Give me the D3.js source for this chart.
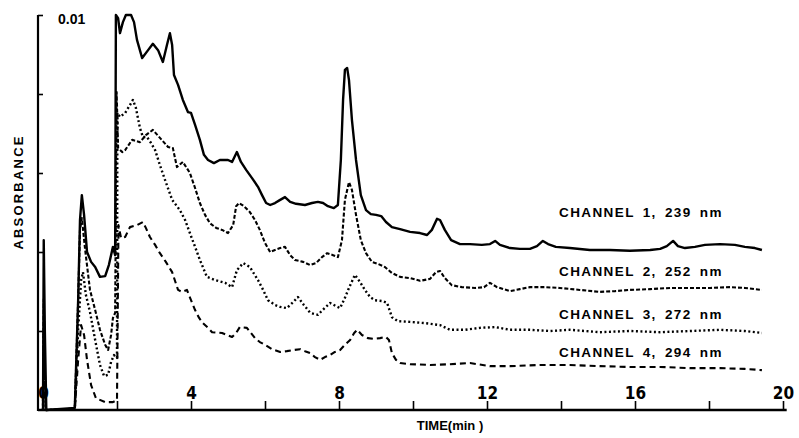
<!DOCTYPE html>
<html lang="en">
<head>
    <meta charset="UTF-8">
    <title>Absorbance chromatogram, 4 channels</title>
    <script src="https://d3js.org/d3.v7.min.js"></script>
    <style>
        * { margin: 0; padding: 0; }
        body { background: #fff; }
        svg { display: block; }
        .lbl { font-family: "Liberation Sans", Arial, sans-serif; font-weight: bold; fill: #000; }
        .tick text { font-family: "DejaVu Sans", sans-serif; font-stretch: condensed; font-weight: bold; }
    </style>
</head>
<body>
<script>
    var width = 799, height = 438;

    // time in minutes, absorbance in mAU (axis top = 0.01 AU = 10 mAU)
    var ch1 = [[0,0],[0.02,4.3],[0.05,2.0],[0.09,0],[0.86,0.05],[0.95,2.78],[1.0,4.81],[1.05,5.44],[1.11,4.94],[1.19,4.0],[1.30,3.75],[1.41,3.62],[1.54,3.37],[1.68,3.39],[1.78,3.67],[1.89,4.13],[1.95,3.92],
        [1.97,10.0],[2.03,9.92],[2.08,9.54],[2.16,9.82],[2.24,10.0],[2.38,10.0],[2.46,9.82],[2.54,9.37],[2.68,8.91],[2.84,9.11],[2.97,9.27],[3.11,9.11],[3.24,8.81],[3.35,9.24],[3.43,9.54],[3.49,9.24],[3.54,8.48],[3.65,8.23],[3.78,7.85],[3.92,7.54],[4.0,7.52],[4.11,7.22],[4.24,6.84],[4.35,6.46],[4.46,6.33],[4.62,6.25],[4.78,6.33],[5.0,6.33],[5.11,6.28],[5.24,6.53],[5.35,6.28],[5.49,6.08],[5.65,5.87],[5.81,5.65],[5.92,5.44],[6.03,5.24],[6.14,5.19],[6.27,5.24],[6.41,5.32],[6.54,5.39],[6.68,5.27],[6.84,5.22],[7.08,5.19],[7.27,5.24],[7.43,5.27],[7.57,5.24],[7.70,5.16],[7.86,5.11],[7.97,5.19],
        [8.05,6.33],[8.11,7.85],[8.16,8.61],[8.22,8.66],[8.27,8.35],[8.35,7.34],[8.46,6.33],[8.59,5.44],[8.73,5.06],[8.86,4.96],[9.0,4.94],[9.14,4.91],[9.27,4.76],[9.43,4.63],[9.65,4.58],[9.92,4.51],[10.19,4.48],[10.38,4.43],[10.51,4.56],[10.65,4.84],[10.73,4.81],[10.86,4.56],[11.03,4.30],[11.27,4.20],[11.54,4.20],[11.86,4.18],[12.08,4.20],[12.22,4.28],[12.35,4.18],[12.62,4.10],[12.89,4.08],[13.16,4.08],[13.35,4.15],[13.51,4.28],[13.65,4.20],[13.86,4.13],[14.24,4.10],[14.78,4.05],[15.32,4.05],[15.86,4.03],[16.41,4.05],[16.68,4.08],[16.86,4.15],[17.03,4.28],[17.16,4.15],[17.35,4.10],[17.62,4.13],[17.89,4.18],[18.30,4.20],[18.70,4.18],[18.97,4.13],[19.24,4.10],[19.43,4.05]];

    var ch2 = [[0,0],[0.02,2.8],[0.05,1.0],[0.08,0],[0.86,0.03],[0.95,2.78],[1.0,4.56],[1.05,4.86],[1.14,4.05],[1.27,3.04],[1.41,2.53],[1.54,2.03],[1.68,1.65],[1.76,1.52],[1.84,1.90],[1.89,2.33],[1.95,2.46],
        [1.99,8.05],[2.03,6.63],[2.14,6.53],[2.22,6.58],[2.41,6.84],[2.62,6.78],[2.78,6.96],[2.97,7.09],[3.16,6.89],[3.38,6.66],[3.51,6.63],[3.62,6.15],[3.78,6.28],[3.97,6.0],[4.11,5.62],[4.24,5.24],[4.38,4.94],[4.51,4.73],[4.68,4.61],[4.84,4.56],[5.0,4.48],[5.14,4.68],[5.22,5.16],[5.30,5.24],[5.43,5.16],[5.59,5.01],[5.73,4.81],[5.86,4.56],[6.0,4.23],[6.14,4.0],[6.27,4.05],[6.41,4.10],[6.54,4.13],[6.68,3.92],[6.81,3.80],[7.03,3.75],[7.22,3.67],[7.38,3.72],[7.54,3.87],[7.68,3.97],[7.84,3.92],[7.97,3.87],
        [8.08,4.30],[8.16,5.32],[8.27,5.77],[8.35,5.57],[8.46,4.94],[8.59,4.30],[8.73,3.97],[8.89,3.75],[9.05,3.70],[9.24,3.62],[9.43,3.47],[9.65,3.37],[9.92,3.34],[10.19,3.27],[10.46,3.32],[10.62,3.49],[10.73,3.52],[10.86,3.34],[11.05,3.16],[11.32,3.11],[11.68,3.09],[11.92,3.11],[12.08,3.22],[12.27,3.11],[12.62,3.01],[12.89,3.06],[13.16,3.11],[13.57,3.11],[13.97,3.09],[14.51,3.04],[15.05,2.99],[15.46,3.01],[15.86,3.04],[16.41,3.06],[16.95,3.09],[17.49,3.09],[18.03,3.09],[18.57,3.11],[18.97,3.09],[19.43,3.04]];

    var ch3 = [[0,0],[0.02,2.0],[0.05,0.7],[0.08,0],[0.86,0.03],[0.95,2.03],[1.03,3.29],[1.08,3.49],[1.16,2.91],[1.27,2.48],[1.41,1.77],[1.54,1.14],[1.65,0.86],[1.76,0.89],[1.84,1.22],[1.92,1.39],[2.0,1.32],
        [2.01,7.52],[2.08,7.42],[2.22,7.52],[2.35,7.72],[2.43,7.85],[2.51,7.65],[2.62,7.14],[2.70,6.91],[2.81,6.91],[2.92,6.76],[3.03,6.58],[3.16,6.20],[3.30,5.82],[3.49,5.32],[3.70,5.06],[3.84,4.81],[3.97,4.48],[4.11,4.13],[4.24,3.80],[4.43,3.37],[4.65,3.29],[4.92,3.22],[5.11,3.11],[5.24,3.54],[5.41,3.72],[5.59,3.62],[5.81,3.29],[5.95,3.04],[6.08,2.78],[6.27,2.66],[6.41,2.61],[6.59,2.58],[6.76,2.73],[6.89,2.86],[7.05,2.66],[7.22,2.46],[7.43,2.41],[7.59,2.56],[7.76,2.71],[7.92,2.63],[8.03,2.58],
        [8.16,2.84],[8.27,3.09],[8.43,3.42],[8.57,3.24],[8.70,3.04],[8.84,2.86],[8.97,2.78],[9.16,2.76],[9.30,2.71],[9.43,2.35],[9.59,2.25],[9.92,2.23],[10.32,2.20],[10.73,2.15],[11.0,2.03],[11.41,2.03],[11.81,2.08],[12.22,2.10],[12.62,2.03],[13.16,2.03],[13.70,2.0],[14.24,2.03],[15.05,1.97],[15.86,2.0],[16.68,1.97],[17.49,2.0],[18.30,2.03],[18.97,2.0],[19.43,1.95]];

    var ch4 = [[0,0],[0.02,1.5],[0.05,0.5],[0.08,0],[0.86,0.03],[0.95,1.27],[1.03,2.15],[1.11,1.90],[1.19,1.27],[1.30,0.63],[1.43,0.30],[1.68,0.20],[1.89,0.20],[2.0,0.25],
        [2.04,4.68],[2.11,4.35],[2.22,4.38],[2.35,4.63],[2.54,4.68],[2.70,4.76],[2.78,4.61],[2.89,4.38],[3.03,4.18],[3.16,3.97],[3.32,3.75],[3.49,3.49],[3.65,3.04],[3.76,2.99],[3.89,3.04],[4.0,2.78],[4.11,2.53],[4.22,2.33],[4.32,2.20],[4.46,2.08],[4.57,1.97],[4.84,1.95],[5.11,1.85],[5.22,1.95],[5.32,2.10],[5.51,2.08],[5.62,1.95],[5.73,1.82],[5.86,1.72],[6.0,1.65],[6.19,1.54],[6.41,1.47],[6.59,1.49],[6.78,1.52],[6.95,1.54],[7.08,1.49],[7.22,1.44],[7.35,1.34],[7.49,1.27],[7.62,1.34],[7.76,1.39],[7.89,1.47],[8.03,1.52],
        [8.16,1.65],[8.30,1.77],[8.41,1.95],[8.49,2.03],[8.62,1.90],[8.78,1.82],[8.95,1.80],[9.11,1.82],[9.27,1.85],[9.35,1.77],[9.43,1.44],[9.54,1.27],[9.65,1.19],[9.92,1.16],[10.46,1.14],[11.0,1.16],[11.54,1.19],[12.08,1.11],[12.62,1.11],[13.43,1.14],[14.24,1.14],[15.05,1.11],[15.86,1.09],[16.68,1.09],[17.49,1.06],[18.30,1.06],[18.97,1.04],[19.43,1.01]];

    var channels = [ch1, ch2, ch3, ch4];
    var channelNames = ['CHANNEL 1, 239 nm', 'CHANNEL 2, 252 nm', 'CHANNEL 3, 272 nm', 'CHANNEL 4, 294 nm'];
    var dashes = [null, '4,2', '2,2.5', '6,4'];
    var widths = [2.4, 2.1, 2.4, 2.1];
    var labelY = [217, 276, 319, 357];

    var xTicks = [0, 2, 4, 6, 8, 10, 12, 14, 16, 18, 20];
    var yTicks = [2, 4, 6, 8, 10];

    var svg = d3.select('body').append('svg')
        .attr('width', width)
        .attr('height', height);

    var xScale = d3.scaleLinear().domain([0, 20]).range([43, 783]);
    var yScale = d3.scaleLinear().domain([0, 10]).range([410, 15]);

    // curves
    var line = d3.line()
        .x(function (d) { return xScale(d[0]); })
        .y(function (d) { return yScale(d[1]); });

    svg.selectAll('.trace')
        .data(channels)
        .enter()
        .append('path')
        .attr('class', 'trace')
        .attr('d', line)
        .attr('fill', 'none')
        .attr('stroke', '#000')
        .attr('stroke-width', function (d, i) { return widths[i]; })
        .attr('stroke-linejoin', 'round')
        .attr('stroke-dasharray', function (d, i) { return dashes[i]; });

    // x axis, ticks pointing up, labels above
    var xAxis = d3.axisTop(xScale)
        .tickValues(xTicks)
        .tickSize(9)
        .tickSizeOuter(0)
        .tickPadding(2)
        .tickFormat(function (d) { return d % 4 == 0 ? d : ''; });

    var gx = svg.append('g')
        .attr('transform', 'translate(0,410)')
        .call(xAxis);
    gx.select('.domain').remove();
    gx.selectAll('.tick line').attr('stroke', '#000').attr('stroke-width', 1.6);
    gx.selectAll('.tick text').attr('fill', '#000').style('font-size', '17px');

    svg.append('line')
        .attr('x1', 38).attr('x2', xScale(20.1))
        .attr('y1', 410).attr('y2', 410)
        .attr('stroke', '#000').attr('stroke-width', 2.6);

    // y axis, ticks pointing right
    var yAxis = d3.axisRight(yScale)
        .tickValues(yTicks)
        .tickSize(5)
        .tickSizeOuter(0)
        .tickPadding(15)
        .tickFormat(function (d) { return d == 10 ? '0.01' : ''; });

    var gy = svg.append('g')
        .attr('transform', 'translate(38,0)')
        .call(yAxis);
    gy.select('.domain').remove();
    gy.selectAll('.tick line').attr('stroke', '#000').attr('stroke-width', 1.6);
    gy.selectAll('.tick text')
        .attr('fill', '#000')
        .attr('dy', '0.6em')
        .style('font-family', '"Liberation Sans", Arial, sans-serif')
        .style('font-stretch', 'normal')
        .style('font-size', '14px');

    svg.append('line')
        .attr('x1', 38).attr('x2', 38)
        .attr('y1', yScale(10)).attr('y2', 411)
        .attr('stroke', '#000').attr('stroke-width', 2.2);

    // axis titles
    svg.append('text')
        .attr('class', 'lbl')
        .attr('transform', 'translate(23,192) rotate(-90)')
        .attr('text-anchor', 'middle')
        .style('font-size', '13px')
        .style('letter-spacing', '2.2px')
        .text('ABSORBANCE');

    svg.append('text')
        .attr('class', 'lbl')
        .attr('x', 450).attr('y', 430)
        .attr('text-anchor', 'middle')
        .style('font-size', '13px')
        .text('TIME(min )');

    // channel labels
    svg.selectAll('.chname')
        .data(channelNames)
        .enter()
        .append('text')
        .attr('class', 'lbl chname')
        .attr('x', 559)
        .attr('y', function (d, i) { return labelY[i]; })
        .style('font-size', '13.5px')
        .style('letter-spacing', '1.4px')
        .style('word-spacing', '3px')
        .text(function (d) { return d; });
</script>
</body>
</html>
